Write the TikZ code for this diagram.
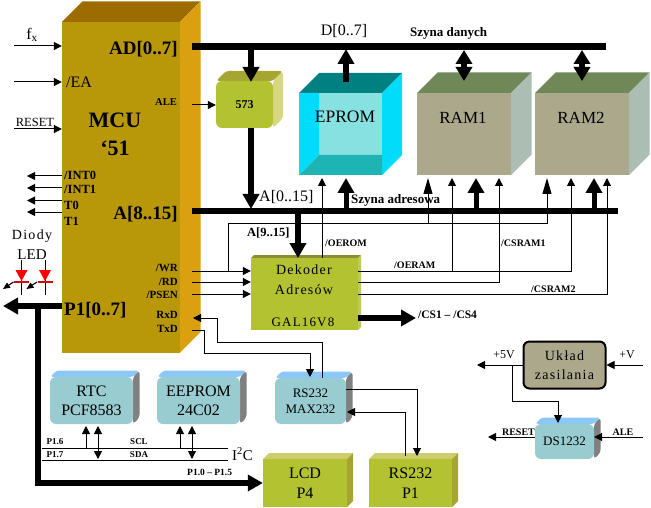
\documentclass[tikz,border=0pt]{standalone}
\usepackage{fontspec}
\setmainfont{Liberation Serif}
\newfontfamily\rzadka[LetterSpace=9]{Liberation Serif}
\usetikzlibrary{arrows.meta}

\definecolor{mcuF}{RGB}{184,152,8}
\definecolor{mcuT}{RGB}{156,108,0}
\definecolor{mcuS}{RGB}{218,160,16}
\definecolor{ltchF}{RGB}{178,194,48}
\definecolor{ltchT}{RGB}{165,165,50}
\definecolor{ltchS}{RGB}{215,215,130}
\definecolor{dekF}{RGB}{178,194,48}
\definecolor{dekT}{RGB}{140,140,50}
\definecolor{dekS}{RGB}{190,200,90}
\definecolor{limeF}{RGB}{178,194,48}
\definecolor{limeT}{RGB}{205,205,110}
\definecolor{limeS}{RGB}{165,165,50}
\definecolor{modF}{RGB}{152,204,208}
\definecolor{modT}{RGB}{140,200,245}
\definecolor{modS}{RGB}{128,128,128}
\definecolor{ramF}{RGB}{172,168,140}
\definecolor{ramT}{RGB}{112,136,88}
\definecolor{ramS}{RGB}{172,190,180}
\definecolor{romT}{RGB}{0,128,128}
\definecolor{romS}{RGB}{0,220,250}
\definecolor{romB}{RGB}{135,225,225}
\definecolor{romD}{RGB}{30,180,180}

\tikzset{
  tx/.style={inner sep=0,align=center,font=\fontsize{#1}{#1}\selectfont},
  tb/.style={inner sep=0,align=center,font=\fontsize{#1}{#1}\selectfont\bfseries},
  ts/.style={inner sep=0,align=center,font=\fontsize{#1}{#1}\selectfont\rzadka},
  wej/.style={line width=1pt,-{Triangle[length=8pt,width=8pt]}},
  linia/.style={line width=1pt},
  waska/.style={line width=1pt,-{Triangle[length=16pt,width=9pt]}},
  gruba/.style={line width=6.5pt,-{Triangle[length=15pt,width=16pt]}},
  szyna/.style={line width=6.5pt},
  dwustr/.style={line width=6pt,{Triangle[length=14pt,width=16pt]}-{Triangle[length=14pt,width=16pt]}},
  dioda/.style={fill=red,draw=none},
  pasek/.style={draw=red!85!black,line width=1.5pt},
  lnz/.style 2 args={font=\fontsize{#1}{#2}\selectfont}
}

% name, x1, y1, x2, y2, depth, colours, text, options
\newcommand{\blok}[9]{
  \fill[#7T] (#2,#3) -- ({#2+#6},{#3-#6}) -- ({#4+#6},{#3-#6}) -- (#4,#3) -- cycle;
  \fill[#7S] (#4,#3) -- ({#4+#6},{#3-#6}) -- ({#4+#6},{#5-#6}) -- (#4,#5) -- cycle;
  \node[fill=#7F,inner sep=0,align=center,minimum width={(#4-#2)*1pt},minimum height={(#5-#3)*1pt},#9]
    (#1) at ({(#2+#4)/2},{(#3+#5)/2}) {#8};
}

\begin{document}
\begin{tikzpicture}[x=1pt,y=-1pt]
\useasboundingbox (0,0) rectangle (651,508);

% blocks
\blok{mcu}{62}{22}{180}{352.5}{20.5}{mcu}{}{}
\blok{ram1}{417}{93}{511}{175}{20.5}{ram}{}{}
\blok{ram2}{535}{93}{629}{175}{20.5}{ram}{}{}
\blok{dek}{251}{258}{358}{330}{3}{dek}{}{}
\blok{lcd}{263}{459}{347}{507}{6}{lime}{LCD\\P4}{lnz={16}{20}}
\blok{rsp}{369}{459}{452}{507}{6}{lime}{RS232\\P1}{lnz={16}{20}}
\begin{scope}[rounded corners=3pt]
\blok{ltch}{216}{81}{273}{128}{10}{ltch}{573}{rounded corners=6pt,tb=12}
\blok{rtc}{50}{377}{133}{424}{6.5}{mod}{RTC\\PCF8583}{rounded corners=6pt,lnz={16}{19}}
\blok{eep}{157}{377}{240}{424}{6.5}{mod}{EEPROM\\24C02}{rounded corners=6pt,lnz={16}{19}}
\blok{max}{275}{378}{346}{424}{6.5}{mod}{RS232\\MAX232}{rounded corners=6pt,lnz={13}{16}}
\blok{ds}{535}{424}{594}{459}{6.5}{mod}{DS1232}{rounded corners=6pt,lnz={13}{13}}
\end{scope}

% EPROM
\fill[romT] (299,93) -- (319,73) -- (402,73) -- (382,93) -- cycle;
\fill[romS] (382,93) -- (402,73) -- (402,155) -- (382,175) -- cycle;
\fill[romB] (319,93) rectangle (382,155);
\fill[romS] (299,93) -- (319,93) -- (319,155) -- (299,175) -- cycle;
\fill[romD] (319,155) -- (382,155) -- (382,175) -- (299,175) -- cycle;
\node[inner sep=0,minimum width=83pt,minimum height=82pt] (eprom) at (340.5,134) {};

% zasilacz
\node[draw,line width=2pt,fill=ramF,rounded corners=6pt,minimum width=82pt,minimum height=47pt,inner sep=0,align=center,
  font=\fontsize{14}{19}\selectfont\rzadka] (zas) at (564.5,365) {Układ\\zasilania};

% buses
\coordinate (dbus) at (192,46.5);
\coordinate (dbusK) at (606,46.5);
\coordinate (abus) at (192,211);
\coordinate (abusK) at (618,211);
\draw[szyna] (dbus) -- (dbusK);
\draw[szyna] (abus) -- (abusK);

% data arrows
\coordinate (a1) at (251,46.5);
\coordinate (a2) at (251,82);
\coordinate (a3) at (251,128);
\coordinate (a4) at (251,209);
\coordinate (a5) at (346,82);
\coordinate (a6) at (346,49);
\coordinate (a7) at (464,50);
\coordinate (a8) at (464,81);
\coordinate (a9) at (582,50);
\coordinate (a10) at (582,81);
\draw[gruba] (a1) -- (a2);
\draw[gruba] (a3) -- (a4);
\draw[gruba] (a5) -- (a6);
\draw[dwustr] (a7) -- (a8);
\draw[dwustr] (a9) -- (a10);

% address arrows
\coordinate (b1) at (346,211);
\coordinate (b2) at (346,178);
\coordinate (b3) at (476,211);
\coordinate (b4) at (476,178);
\coordinate (b5) at (594,211);
\coordinate (b6) at (594,178);
\coordinate (b7) at (298,211);
\coordinate (b8) at (298,258);
\draw[gruba,line width=5pt] (b1) -- (b2);
\draw[gruba,line width=5pt] (b3) -- (b4);
\draw[gruba,line width=5pt] (b5) -- (b6);
\draw[gruba] (b7) -- (b8);

% decoder inputs and outputs
\coordinate (wr) at (192,271);
\coordinate (rd) at (192,282);
\coordinate (psen) at (192,294);
\coordinate (c1) at (228,271);
\coordinate (c2) at (228,223);
\coordinate (c3) at (547,223);
\coordinate (c4) at (547,178);
\coordinate (c5) at (428,223);
\coordinate (c6) at (428,178);
\draw[wej] (wr) -- (wr -| dek.west);
\draw[wej] (rd) -- (rd -| dek.west);
\draw[wej] (psen) -- (psen -| dek.west);
\draw[waska] (c1) -- (c2) -- (c3) -- (c4);
\draw[waska] (c5) -- (c6);
\coordinate (d1) at (322,258);
\coordinate (d2) at (322,178);
\draw[wej] (d1) -- (d2);
\coordinate (e0) at (358,271);
\coordinate (e1) at (571,271);
\coordinate (e2) at (571,178);
\coordinate (e3) at (452,271);
\coordinate (e4) at (452,178);
\draw[wej] (e0) -- (e1) -- (e2);
\draw[wej] (e3) -- (e4);
\coordinate (f0) at (358,282);
\coordinate (f1) at (499,282);
\coordinate (f2) at (499,178);
\draw[wej] (f0) -- (f1) -- (f2);
\coordinate (g0) at (358,294);
\coordinate (g1) at (607,294);
\coordinate (g2) at (607,178);
\draw[wej] (g0) -- (g1) -- (g2);
\coordinate (h0) at (358,318);
\coordinate (h1) at (416,318);
\draw[gruba] (h0) -- (h1);

% ALE
\coordinate (ale) at (192,105);
\draw[wej] (ale) -- (ale -| ltch.west);

% left side
\coordinate (fx) at (14,46);
\coordinate (ea) at (14,82);
\coordinate (rst) at (14,129);
\coordinate (int0) at (27,176);
\coordinate (int1) at (27,188);
\coordinate (t0) at (27,200.5);
\coordinate (t1) at (27,212);
\draw[wej] (fx) -- (fx -| mcu.west);
\draw[wej] (ea) -- (ea -| mcu.west);
\draw[wej] (rst) -- (rst -| mcu.west);
\draw[wej] (int0 -| mcu.west) -- (int0);
\draw[wej] (int1 -| mcu.west) -- (int1);
\draw[wej] (t0 -| mcu.west) -- (t0);
\draw[wej] (t1 -| mcu.west) -- (t1);

% P1
\coordinate (p1) at (3,306);
\coordinate (p2) at (38,306);
\coordinate (p3) at (38,483);
\draw[gruba] (p1 -| mcu.west) -- (p1);
\draw[gruba] (p2) -- (p3) -- (lcd.west);

% LEDs
\foreach \x/\n in {21.5/la,45/lb}{
  \coordinate (\n1) at (\x,260);
  \coordinate (\n2) at (\x,295);
  \draw[linia] (\n1) -- (\n2);
  \fill[dioda] ({\x-6},270) -- ({\x+6},270) -- (\x,281) -- cycle;
  \draw[pasek] ({\x-7.5},282) -- ({\x+7.5},282);
  \coordinate (\n3) at ({\x-8},282);
  \coordinate (\n4) at ({\x-18.5},289);
  \draw[linia,-{Triangle[length=7pt,width=6pt]}] (\n3) -- (\n4);
}

% RS232
\coordinate (rx0) at (193,318);
\coordinate (rx1) at (217,318);
\coordinate (rx2) at (217,342);
\coordinate (rx3) at (322,342);
\coordinate (rx4) at (322,378);
\draw[wej] (rx4) -- (rx3) -- (rx2) -- (rx1) -- (rx0);
\coordinate (tx0) at (192,330);
\coordinate (tx1) at (204,330);
\coordinate (tx2) at (204,353);
\coordinate (tx3) at (310,353);
\coordinate (tx4) at (310,377);
\draw[wej] (tx0) -- (tx1) -- (tx2) -- (tx3) -- (tx4);
\coordinate (m1) at (346,389);
\coordinate (m2) at (417,389);
\coordinate (m3) at (417,456);
\coordinate (m4) at (405,456);
\coordinate (m5) at (405,412);
\coordinate (m6) at (347,412);
\draw[wej] (m1) -- (m2) -- (m3);
\draw[wej] (m4) -- (m5) -- (m6);

% I2C
\coordinate (i1) at (42,448);
\coordinate (i2) at (228,448);
\coordinate (i3) at (42,460);
\coordinate (i4) at (228,460);
\draw[linia] (i1) -- (i2);
\draw[linia] (i3) -- (i4);
\coordinate (r1) at (86,448);
\coordinate (r2) at (86,426);
\coordinate (r3) at (98,426);
\coordinate (r4) at (98,459);
\coordinate (r5) at (180,448);
\coordinate (r6) at (180,426);
\coordinate (r7) at (192,426);
\coordinate (r8) at (192,459);
\draw[wej] (r1) -- (r2);
\draw[wej,{Triangle[length=8pt,width=8pt]}-{Triangle[length=8pt,width=8pt]}] (r3) -- (r4);
\draw[wej] (r5) -- (r6);
\draw[wej,{Triangle[length=8pt,width=8pt]}-{Triangle[length=8pt,width=8pt]}] (r7) -- (r8);

% supply
\coordinate (v1) at (477,365);
\coordinate (v2) at (643,365);
\coordinate (v3) at (512,365);
\coordinate (v4) at (512,401);
\coordinate (v5) at (558,401);
\coordinate (v6) at (558,423);
\draw[wej] (zas.west) -- (v1);
\draw[wej] (v2) -- (zas.east);
\draw[wej] (v3) -- (v4) -- (v5) -- (v6);
\coordinate (w1) at (488,437);
\coordinate (w2) at (643,437);
\draw[wej] (ds.west |- w1) -- (w1);
\draw[wej] (w2) -- (ds.east |- w2);

% labels
\node[tx=16] (lfx) at (32,35) {f\textsubscript{x}};
\node[tx=16,anchor=west] (lea) at (66,82) {/EA};
\node[tx=12.5] (lrst) at (35,122) {RESET};
\node[tb=22] (lmcu) at (115,120) {MCU};
\node[tb=22] (l51) at (115,148) {‘51};
\node[tb=19,anchor=east] (lad) at (178,49) {AD[0..7]};
\node[tb=10.5,anchor=east] (lale) at (177,102) {ALE};
\node[tb=19,anchor=east] (la8) at (178,214) {A[8..15]};
\node[tb=12.5,anchor=west] (lint0) at (64,175) {/INT0};
\node[tb=12.5,anchor=west] (lint1) at (64,189) {/INT1};
\node[tb=12.5,anchor=west] (lt0) at (64,205) {T0};
\node[tb=12.5,anchor=west] (lt1) at (64,221) {T1};
\node[tb=11,anchor=east] (lwr) at (178,268) {/WR};
\node[tb=11,anchor=east] (lrd) at (178,282) {/RD};
\node[tb=11,anchor=east] (lpsen) at (178,295) {/PSEN};
\node[tb=11,anchor=east] (lrx) at (178,315) {RxD};
\node[tb=11,anchor=east] (ltx) at (178,329) {TxD};
\node[tb=19,anchor=west] (lp1) at (64,310) {P1[0..7]};
\node[ts=14] (ldio) at (32,236) {Diody};
\node[tx=15] (lled) at (32,255) {LED};
\node[tx=16] (ld07) at (344,31) {D[0..7]};
\node[tb=13,anchor=west] (lszd) at (410,33) {Szyna danych};
\node[tx=17.5] (lrom) at (345,117) {EPROM};
\node[tx=17] (lr1) at (463,118) {RAM1};
\node[tx=17] (lr2) at (581,118) {RAM2};
\node[tx=16,anchor=west] (la0) at (259,197) {A[0..15]};
\node[tb=13,anchor=west] (lsza) at (351,200) {Szyna adresowa};
\node[tb=12.5,anchor=west] (la9) at (247,233) {A[9..15]};
\node[tb=10,anchor=west] (loer) at (325,243) {/OEROM};
\node[tb=10,anchor=west] (loea) at (394,265) {/OERAM};
\node[tb=10,anchor=west] (lcs1) at (501,243) {/CSRAM1};
\node[tb=10,anchor=west] (lcs2) at (531,289) {/CSRAM2};
\node[tb=11.5,anchor=west] (lcs) at (418,315) {/CS1 – /CS4};
\node[ts=14] (ldk1) at (304,270) {Dekoder};
\node[ts=14] (ldk2) at (304,290) {Adresów};
\node[ts=13] (ldk3) at (303,322) {GAL16V8};
\node[tb=9] (lp16) at (55,442) {P1.6};
\node[tb=9] (lp17) at (55,455) {P1.7};
\node[tb=9] (lscl) at (139,442) {SCL};
\node[tb=9] (lsda) at (139,455) {SDA};
\node[tx=15,anchor=west] (li2c) at (232,454) {I\textsuperscript{2}C};
\node[tb=9.5,anchor=west] (lp10) at (187,472) {P1.0 – P1.5};
\node[tx=12] (l5v) at (504,355) {+5V};
\node[tx=12] (lv) at (627,355) {+V};
\node[tb=10] (lres) at (518.5,432) {RESET};
\node[tb=10] (lal2) at (623,432) {ALE};
\end{tikzpicture}
\end{document}
